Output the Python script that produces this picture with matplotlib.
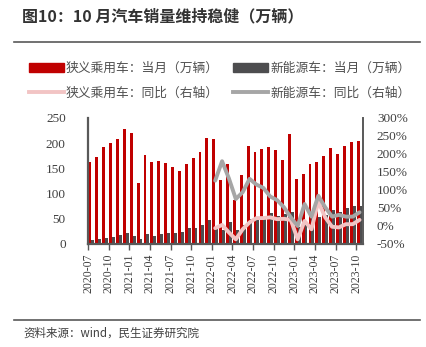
import numpy as np
import matplotlib
matplotlib.use("Agg")
from matplotlib import pyplot as plt
from matplotlib.lines import Line2D
from matplotlib.patches import Patch

# 数据（万辆 / %），2020-07 ~ 2023-10
tick_labels = ['2020-07', '2020-10', '2021-01', '2021-04', '2021-07', '2021-10', '2022-01',
               '2022-04', '2022-07', '2022-10', '2023-01', '2023-04', '2023-07', '2023-10']
passenger = [162, 172, 192, 200, 209, 229, 220, 121, 177, 163, 164, 160, 152, 145, 159, 171,
             182, 211, 209, 126, 159, 88, 136, 195, 182, 189, 193, 186, 166, 218, 129, 139,
             159, 162, 175, 190, 178, 194, 203, 204]
nev = [8, 9.5, 11, 13, 17, 21, 16, 9.5, 19, 16, 19, 22, 22, 24.5, 32, 31,
       37, 47, 33, 27, 44, 28, 38, 50, 47, 51, 61, 55, 59, 64, 33, 43,
       52, 53, 58, 67, 64, 72, 75, 76]
# 同比只从 2022-01 开始画
yoy_start = 18
passenger_yoy = [-6, 3, -18, -37, -9, 10, 22, 22, 24, 19, 20, 17, -37, 14, -9, 68, 24, -2, -4, 5, 5, 17]
nev_yoy = [126, 180, 132, 75, 94, 131, 115, 106, 82, 72, 52, 24, 0, 61, 26, 84, 52, 26, 31, 26, 26, 38]

RED = '#C00000'
DARK = '#4D4D4F'
PINK = '#F2C4C4'
GRAY = '#A6A6A6'
SPINE = '#595959'
CJK = ['Noto Sans CJK SC', 'DejaVu Sans']
SERIF = 'Liberation Serif'

W, H = 426, 347
fig = plt.figure(figsize=(W / 100, H / 100), dpi=100)
ax = fig.add_axes([88 / W, 1 - 244 / H, 275 / W, 126 / H])
ax2 = ax.twinx()

n = len(passenger)
x = np.arange(n)
ax.bar(x + 0.08, passenger, width=0.42, align='edge', color=RED, zorder=2)
ax.bar(x + 0.5, nev, width=0.42, align='edge', color=DARK, zorder=2)

xl = np.arange(yoy_start, n) + 0.5
ax2.plot(xl, passenger_yoy, color=PINK, lw=2.8, solid_capstyle='round', solid_joinstyle='round', zorder=3)
ax2.plot(xl, nev_yoy, color=GRAY, lw=2.8, solid_capstyle='round', solid_joinstyle='round', zorder=3)

ax.set_xlim(0, n)
ax.set_ylim(0, 250)
ax2.set_ylim(-50, 300)
ax.set_yticks(range(0, 251, 50))
ax2.set_yticks(range(-50, 301, 50))
ax2.set_yticklabels([f'{v}%' for v in range(-50, 301, 50)])
ax.set_xticks(np.arange(0, n, 3))
ax.set_xticklabels(tick_labels, rotation=90)

for a in (ax, ax2):
    for s in a.spines.values():
        s.set_visible(False)
ax.spines['left'].set_visible(True)
ax.spines['left'].set_color(SPINE)
ax.spines['left'].set_linewidth(1.6)
ax.spines['bottom'].set_visible(True)
ax.spines['bottom'].set_color(SPINE)
ax.spines['bottom'].set_linewidth(1.6)
ax2.spines['right'].set_visible(True)
ax2.spines['right'].set_color(SPINE)
ax2.spines['right'].set_linewidth(1.4)

ax.tick_params(axis='y', length=0, pad=16, labelsize=9.5, labelcolor='#404040')
ax2.tick_params(axis='y', length=0, pad=10, labelsize=9.5, labelcolor='#404040')
ax.tick_params(axis='x', length=4, width=1, color=SPINE, pad=3, labelsize=8.5, labelcolor='#404040')
for lab in ax.get_yticklabels() + ax2.get_yticklabels() + ax.get_xticklabels():
    lab.set_fontfamily(SERIF)

# 标题、分隔线、来源
fig.text(22 / W, 1 - 16 / H, '图10：10 月汽车销量维持稳健（万辆）', fontsize=11.5, fontweight='bold',
         family=CJK, color='#333333', va='center', ha='left')
fig.add_artist(Line2D([14 / W, 420 / W], [1 - 42 / H, 1 - 42 / H], color=SPINE, lw=1.2,
                      transform=fig.transFigure))
fig.add_artist(Line2D([14 / W, 420 / W], [1 - 320 / H, 1 - 320 / H], color=SPINE, lw=1.2,
                      transform=fig.transFigure))
fig.text(23 / W, 1 - 333 / H, '资料来源：wind，民生证券研究院', fontsize=8.3, family=CJK,
         color='#404040', va='center', ha='left')

# 图例按列填充，所以顺序是 红、粉、深灰、灰
handles = [Patch(color=RED), Line2D([], [], color=PINK, lw=2.8),
           Patch(color=DARK), Line2D([], [], color=GRAY, lw=2.8)]
labels = ['狭义乘用车：当月（万辆）', '狭义乘用车：同比（右轴）',
          '新能源车：当月（万辆）', '新能源车：同比（右轴）']
fig.legend(handles, labels, loc='upper left', bbox_to_anchor=(29 / W, 1 - 62 / H), ncol=2,
           frameon=False, borderpad=0, borderaxespad=0, handlelength=2.7, handleheight=0.6,
           handletextpad=0.2, columnspacing=1.1, labelspacing=0.9,
           prop={'family': CJK, 'size': 9.2}, labelcolor='#505050')

fig.savefig('out.png', dpi=100)
